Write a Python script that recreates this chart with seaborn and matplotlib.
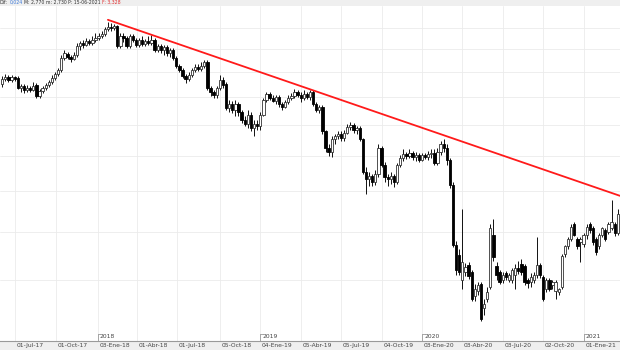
import pandas as pd
import matplotlib
matplotlib.use("Agg")
import matplotlib.pyplot as plt
import seaborn as sns

# weekly candles, first bar on this Friday
first_week = "2017-06-02"

opens = [5.26, 5.36, 5.40, 5.34, 5.40, 5.38, 5.18, 5.22, 5.14, 5.18,
         5.14, 5.24, 5.02, 5.12, 5.18, 5.24, 5.30, 5.38, 5.46, 5.54,
         5.80, 5.89, 5.83, 5.78, 5.87, 6.07, 6.14, 6.10, 6.19, 6.14,
         6.21, 6.26, 6.31, 6.36, 6.48, 6.53, 6.50, 6.55, 6.07, 6.31,
         6.26, 6.07, 6.31, 6.21, 6.10, 6.21, 6.12, 6.19, 6.14, 6.21,
         5.98, 6.07, 5.98, 6.05, 5.91, 5.98, 5.80, 5.63, 5.54, 5.42,
         5.36, 5.44, 5.54, 5.61, 5.57, 5.63, 5.72, 5.18, 5.10, 5.04,
         5.18, 5.34, 5.26, 4.80, 4.88, 4.77, 4.88, 4.73, 4.59, 4.52,
         4.68, 4.45, 4.52, 4.48, 4.68, 4.95, 5.06, 4.98, 4.93, 5.00,
         4.88, 4.82, 4.91, 4.98, 5.02, 5.10, 5.04, 4.98, 5.06, 5.00,
         5.10, 4.88, 4.77, 4.82, 4.39, 4.13, 4.06, 4.26, 4.31, 4.35,
         4.29, 4.37, 4.47, 4.50, 4.42, 4.45, 4.26, 3.77, 3.66, 3.71,
         3.63, 3.73, 4.13, 3.87, 3.69, 3.66, 3.71, 3.63, 3.87, 3.97,
         4.03, 4.00, 4.05, 3.99, 4.02, 3.94, 4.02, 3.99, 4.03, 4.05,
         3.90, 4.06, 4.18, 4.13, 3.94, 3.59, 2.86, 2.75, 2.50, 2.58,
         2.65, 2.58, 2.35, 2.40, 2.46, 2.25, 2.33, 2.44, 2.97, 2.64,
         2.58, 2.50, 2.57, 2.50, 2.50, 2.55, 2.62, 2.66, 2.64, 2.50,
         2.48, 2.50, 2.55, 2.65, 2.53, 2.42, 2.50, 2.45, 2.40, 2.39,
         2.44, 2.76, 2.85, 2.92, 3.09, 2.92, 2.89, 2.87, 2.97, 3.09,
         3.05, 2.92, 2.84, 2.97, 3.02, 3.00, 3.05, 3.09, 2.99]
highs = [5.42, 5.46, 5.44, 5.44, 5.42, 5.42, 5.26, 5.26, 5.24, 5.22,
         5.30, 5.28, 5.16, 5.22, 5.28, 5.34, 5.44, 5.50, 5.59, 5.87,
         5.98, 5.93, 5.87, 5.93, 6.14, 6.19, 6.21, 6.26, 6.24, 6.29,
         6.38, 6.38, 6.43, 6.53, 6.65, 6.63, 6.60, 6.58, 6.38, 6.38,
         6.31, 6.36, 6.36, 6.26, 6.26, 6.29, 6.24, 6.29, 6.33, 6.26,
         6.12, 6.12, 6.10, 6.10, 6.02, 6.02, 5.85, 5.67, 5.59, 5.46,
         5.50, 5.59, 5.67, 5.67, 5.72, 5.76, 5.76, 5.22, 5.14, 5.22,
         5.44, 5.40, 5.30, 4.95, 4.93, 4.95, 4.91, 4.77, 4.65, 4.77,
         4.73, 4.59, 4.59, 4.73, 4.98, 5.10, 5.10, 5.04, 5.04, 5.04,
         4.91, 4.95, 5.04, 5.08, 5.16, 5.14, 5.10, 5.14, 5.10, 5.14,
         5.14, 4.91, 4.86, 4.86, 4.42, 4.19, 4.31, 4.35, 4.40, 4.39,
         4.42, 4.52, 4.55, 4.53, 4.48, 4.48, 4.29, 3.83, 3.77, 3.74,
         3.80, 4.18, 4.16, 3.91, 3.73, 3.77, 3.74, 3.90, 4.02, 4.10,
         4.06, 4.10, 4.08, 4.06, 4.05, 4.05, 4.05, 4.08, 4.10, 4.10,
         4.13, 4.23, 4.26, 4.18, 3.97, 3.62, 2.90, 2.81, 3.27, 2.67,
         2.68, 2.60, 2.46, 2.48, 2.48, 2.33, 2.44, 3.09, 3.15, 2.68,
         2.60, 2.58, 2.59, 2.57, 2.62, 2.66, 2.69, 2.71, 2.66, 2.52,
         2.57, 2.58, 2.94, 2.67, 2.55, 2.52, 2.52, 2.50, 2.50, 2.43,
         2.76, 2.86, 2.94, 3.09, 3.11, 2.94, 2.94, 2.99, 3.09, 3.12,
         3.07, 2.94, 2.99, 3.06, 3.05, 3.11, 3.39, 3.11, 3.27]
lows = [5.20, 5.32, 5.30, 5.30, 5.32, 5.16, 5.10, 5.08, 5.10, 5.10,
        5.12, 4.98, 4.98, 5.08, 5.14, 5.20, 5.26, 5.34, 5.42, 5.50,
        5.76, 5.78, 5.70, 5.76, 5.83, 5.98, 6.02, 6.07, 6.10, 6.10,
        6.17, 6.21, 6.26, 6.31, 6.43, 6.43, 6.45, 6.02, 6.02, 6.17,
        6.02, 6.02, 6.17, 6.05, 6.05, 6.07, 6.07, 6.10, 6.10, 5.93,
        5.93, 5.91, 5.87, 5.85, 5.83, 5.76, 5.59, 5.50, 5.38, 5.28,
        5.32, 5.40, 5.50, 5.52, 5.52, 5.59, 5.14, 5.02, 4.98, 4.98,
        5.14, 5.18, 4.77, 4.73, 4.70, 4.66, 4.65, 4.54, 4.48, 4.45,
        4.39, 4.31, 4.42, 4.42, 4.65, 4.91, 4.95, 4.90, 4.88, 4.82,
        4.77, 4.79, 4.88, 4.95, 4.98, 5.00, 4.91, 4.95, 4.96, 4.95,
        4.84, 4.73, 4.70, 4.34, 4.06, 4.00, 3.98, 4.18, 4.26, 4.23,
        4.24, 4.34, 4.42, 4.37, 4.35, 4.23, 3.73, 3.47, 3.57, 3.57,
        3.59, 3.69, 3.83, 3.63, 3.57, 3.60, 3.56, 3.60, 3.83, 3.93,
        3.96, 3.97, 3.94, 3.93, 3.91, 3.93, 3.96, 3.94, 3.97, 3.86,
        3.87, 4.02, 4.06, 3.87, 3.54, 2.83, 2.55, 2.55, 2.42, 2.54,
        2.51, 2.31, 2.31, 2.36, 2.14, 2.19, 2.30, 2.42, 2.69, 2.50,
        2.46, 2.47, 2.50, 2.48, 2.47, 2.42, 2.56, 2.55, 2.45, 2.43,
        2.44, 2.47, 2.52, 2.52, 2.31, 2.39, 2.40, 2.42, 2.33, 2.36,
        2.42, 2.73, 2.81, 2.90, 2.95, 2.81, 2.68, 2.83, 2.92, 2.99,
        2.86, 2.75, 2.81, 2.94, 2.90, 2.98, 3.02, 2.96, 2.97]
closes = [5.36, 5.40, 5.34, 5.40, 5.36, 5.18, 5.22, 5.14, 5.18, 5.14,
          5.22, 5.02, 5.12, 5.18, 5.24, 5.30, 5.38, 5.46, 5.54, 5.80,
          5.91, 5.83, 5.78, 5.87, 6.07, 6.14, 6.10, 6.19, 6.14, 6.21,
          6.26, 6.31, 6.36, 6.48, 6.53, 6.50, 6.55, 6.07, 6.31, 6.26,
          6.07, 6.31, 6.21, 6.10, 6.21, 6.12, 6.19, 6.14, 6.21, 5.98,
          6.07, 5.98, 6.05, 5.91, 5.98, 5.80, 5.63, 5.54, 5.42, 5.36,
          5.44, 5.54, 5.61, 5.57, 5.63, 5.72, 5.18, 5.10, 5.04, 5.18,
          5.34, 5.24, 4.80, 4.88, 4.77, 4.88, 4.73, 4.59, 4.52, 4.68,
          4.45, 4.52, 4.48, 4.68, 4.95, 5.06, 4.98, 4.93, 5.00, 4.88,
          4.82, 4.91, 4.98, 5.02, 5.10, 5.04, 4.98, 5.06, 5.00, 5.10,
          4.88, 4.77, 4.82, 4.39, 4.13, 4.06, 4.26, 4.31, 4.35, 4.29,
          4.37, 4.47, 4.50, 4.42, 4.45, 4.26, 3.77, 3.66, 3.71, 3.63,
          3.73, 4.13, 3.87, 3.69, 3.66, 3.71, 3.63, 3.87, 3.97, 4.03,
          4.00, 4.05, 3.99, 4.02, 3.94, 4.02, 3.99, 4.03, 4.05, 3.90,
          4.06, 4.18, 4.13, 3.94, 3.59, 2.86, 2.60, 2.58, 2.68, 2.63,
          2.54, 2.33, 2.42, 2.45, 2.16, 2.28, 2.39, 3.05, 2.73, 2.55,
          2.48, 2.55, 2.53, 2.55, 2.60, 2.62, 2.59, 2.58, 2.48, 2.47,
          2.53, 2.55, 2.65, 2.55, 2.33, 2.50, 2.42, 2.48, 2.48, 2.42,
          2.74, 2.84, 2.92, 3.06, 2.97, 2.84, 2.92, 2.97, 3.06, 3.02,
          2.89, 2.78, 2.97, 3.04, 2.92, 3.09, 3.12, 2.99, 3.21]

tick_dates = ["2017-07-01", "2017-10-01", "2018-01-03", "2018-04-01", "2018-07-01",
              "2018-10-05", "2019-01-04", "2019-04-05", "2019-07-05", "2019-10-04",
              "2020-01-03", "2020-04-03", "2020-07-03", "2020-10-02", "2021-01-01"]
tick_labels = ["01-Jul-17", "01-Oct-17", "03-Ene-18", "01-Abr-18", "01-Jul-18",
               "05-Oct-18", "04-Ene-19", "05-Abr-19", "05-Jul-19", "04-Oct-19",
               "03-Ene-20", "03-Abr-20", "03-Jul-20", "02-Oct-20", "01-Ene-21"]
year_dates = ["2018-01-03", "2019-01-04", "2020-01-03", "2021-01-01"]
year_labels = ["2018", "2019", "2020", "2021"]

# resistance line drawn on the chart
trend_dates = ["2018-01-26", "2021-03-24"]
trend_prices = [6.70, 3.44]

grid_prices = [2.5, 3.0, 3.5, 4.0, 4.5, 5.0, 5.5, 6.0, 6.5]

df = pd.DataFrame({"open": opens, "high": highs, "low": lows, "close": closes})
df["date"] = pd.date_range(first_week, periods=len(df), freq="7D")
df["up"] = df["close"] >= df["open"]
df["body_lo"] = df[["open", "close"]].min(axis=1)
df["body_h"] = (df["close"] - df["open"]).abs().clip(lower=0.01)

sns.set_style("white")
plt.rcParams["font.family"] = ["DejaVu Sans"]

fig = plt.figure(figsize=(6.2, 3.5), dpi=100, facecolor="#efefef")
ax = fig.add_axes([0, 9 / 350, 1, 335 / 350])
ax.set_facecolor("white")
ax.set_yscale("log")

tick_dt = pd.to_datetime(tick_dates)
for d in tick_dt:
    ax.axvline(d, color="#ebebeb", lw=0.6, zorder=0)
for p in grid_prices:
    ax.axhline(p, color="#ebebeb", lw=0.6, zorder=0)

# wicks
ax.vlines(df["date"], df["low"], df["high"], color="#111111", lw=0.7, zorder=2)

# bodies
up = df[df["up"]]
dn = df[~df["up"]]
ax.bar(up["date"], up["body_h"], bottom=up["body_lo"], width=5.2,
       color="white", edgecolor="#333333", linewidth=0.6, zorder=3)
ax.bar(dn["date"], dn["body_h"], bottom=dn["body_lo"], width=5.2,
       color="black", edgecolor="black", linewidth=0.6, zorder=3)

trend = pd.DataFrame({"date": pd.to_datetime(trend_dates), "price": trend_prices})
sns.lineplot(data=trend, x="date", y="price", color="#ff1a1a", lw=1.3, ax=ax, zorder=4)

ax.set_xlim(pd.Timestamp("2017-05-28"), pd.Timestamp("2021-03-24"))
ax.set_ylim(1.985, 7.06)
ax.set_xlabel("")
ax.set_ylabel("")
ax.set_yticks([])
ax.yaxis.set_minor_locator(matplotlib.ticker.NullLocator())

for s in ["top", "left", "right"]:
    ax.spines[s].set_visible(False)
ax.spines["bottom"].set_color("#9a9a9a")
ax.spines["bottom"].set_linewidth(0.8)

ax.set_xticks(tick_dt)
ax.set_xticklabels([])
ax.tick_params(axis="x", direction="out", length=7, width=0.6, color="#9a9a9a", pad=0)

trans = ax.get_xaxis_transform()
for d, lab in zip(tick_dt, tick_labels):
    ax.text(d + pd.Timedelta(days=4), -0.014, lab, transform=trans, ha="left", va="center",
            fontsize=4.3, color="#444444", clip_on=False)

for d, lab in zip(pd.to_datetime(year_dates), year_labels):
    ax.plot([d, d], [0, 0.022], transform=trans, color="#9a9a9a", lw=0.6, clip_on=False)
    ax.plot([d, d + pd.Timedelta(days=6)], [0.022, 0.022], transform=trans, color="#9a9a9a", lw=0.6)
    ax.text(d + pd.Timedelta(days=5), 0.013, lab, transform=trans, ha="left", va="center",
            fontsize=4.3, color="#444444")

# header strip with the quote values, laid out one after another
header = [("Dif:", "#333333"), ("0,024", "#3a78d8"), ("M: 2,770", "#333333"),
          ("m: 2,730", "#333333"), ("P: 15-06-2021", "#333333"), ("F: 3,328", "#e03030")]
renderer = fig.canvas.get_renderer()
px = 0.0
for txt, col in header:
    t = fig.text(px / 620, 1 - 2.5 / 350, txt, color=col, fontsize=3.3, ha="left", va="center")
    px += t.get_window_extent(renderer).width + 1.5

fig.savefig("out.png", dpi=100, facecolor=fig.get_facecolor())
